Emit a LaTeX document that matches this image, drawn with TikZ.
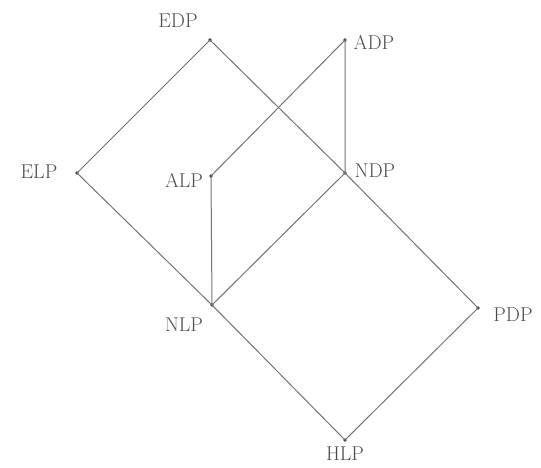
\documentclass[tikz,border=0pt]{standalone}
\begin{document}
\begin{tikzpicture}[x=1pt,y=-1pt,
  dot/.style={circle,fill=black!75,inner sep=0pt,minimum size=3.6pt},
  lbl/.style={text=black!70,font=\fontsize{20}{22}\selectfont,inner sep=0pt},
  edge/.style={draw=black!55,line width=1pt}]
\useasboundingbox (0,0) rectangle (541,467);
% vertices
\node[dot] (EDP) at (210,40) {};
\node[dot] (ADP) at (345,40) {};
\node[dot] (ELP) at (77,173) {};
\node[dot] (ALP) at (211,176) {};
\node[dot] (NDP) at (345,173) {};
\node[dot] (NLP) at (212,305) {};
\node[dot] (PDP) at (478,308) {};
\node[dot] (HLP) at (345,440) {};
% labels
\node[lbl] (EDPl) at (178,21) {EDP};
\node[lbl] (ADPl) at (374,42) {ADP};
\node[lbl] (ELPl) at (39,172) {ELP};
\node[lbl] (ALPl) at (184,180) {ALP};
\node[lbl] (NDPl) at (375,171) {NDP};
\node[lbl] (NLPl) at (184,325) {NLP};
\node[lbl] (PDPl) at (513,315) {PDP};
\node[lbl] (HLPl) at (345,454) {HLP};
% edges
\draw[edge] (EDP.center) -- (ELP.center) -- (NLP.center) -- (HLP.center) -- (PDP.center) -- (NDP.center) -- (EDP.center);
\draw[edge] (NLP.center) -- (NDP.center) -- (ADP.center) -- (ALP.center) -- (NLP.center);
\end{tikzpicture}
\end{document}
